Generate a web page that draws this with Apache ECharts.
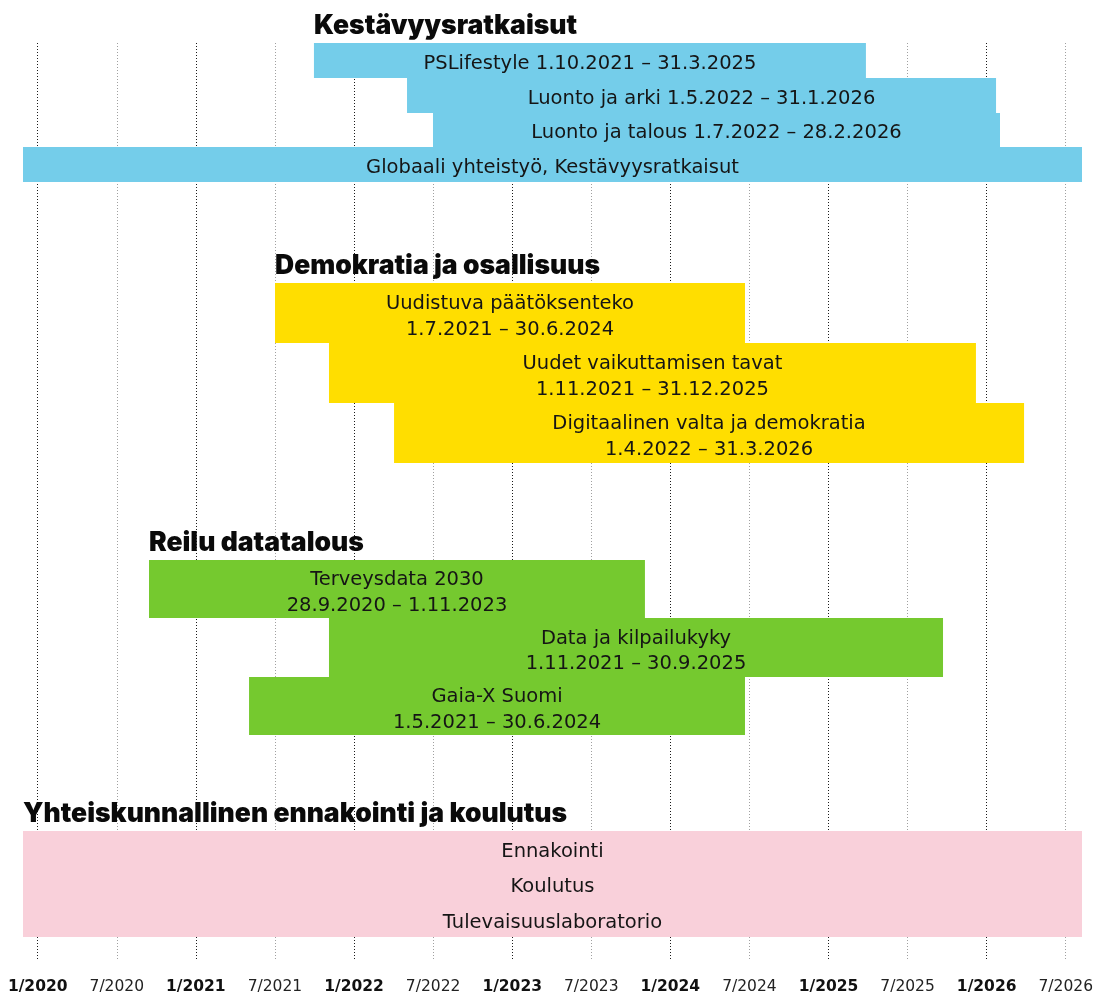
<!DOCTYPE html>
<html>
<head>
<meta charset="utf-8">
<title>Ohjelmat aikajanalla</title>
<script src="https://cdn.jsdelivr.net/npm/echarts@6/dist/echarts.min.js"></script>
<style>
    html, body { margin: 0; padding: 0; background: #fff; }
    #chart { width: 1096px; height: 995px; }
</style>
</head>
<body>
<div id="chart"></div>
<script>
// ryhmät (otsikot)
var groupNames = ['Kestävyysratkaisut', 'Demokratia ja osallisuus', 'Reilu datatalous', 'Yhteiskunnallinen ennakointi ja koulutus'];

// hankkeet
var projectNames = [
    'PSLifestyle', 'Luonto ja arki', 'Luonto ja talous', 'Globaali yhteistyö, Kestävyysratkaisut',
    'Uudistuva päätöksenteko', 'Uudet vaikuttamisen tavat', 'Digitaalinen valta ja demokratia',
    'Terveysdata 2030', 'Data ja kilpailukyky', 'Gaia-X Suomi',
    'Ennakointi', 'Koulutus', 'Tulevaisuuslaboratorio'
];
var projectDates = [
    '1.10.2021 – 31.3.2025', '1.5.2022 – 31.1.2026', '1.7.2022 – 28.2.2026', '',
    '1.7.2021 – 30.6.2024', '1.11.2021 – 31.12.2025', '1.4.2022 – 31.3.2026',
    '28.9.2020 – 1.11.2023', '1.11.2021 – 30.9.2025', '1.5.2021 – 30.6.2024',
    '', '', ''
];
var projectGroup = [0, 0, 0, 0, 1, 1, 1, 2, 2, 2, 3, 3, 3];

// palkkien alku ja loppu vuosina (luettu kuvasta)
var startYear = [2021.745, 2022.333, 2022.497, 2019.907, 2021.499, 2021.840, 2022.251, 2020.703, 2021.840, 2021.335, 2019.907, 2019.907, 2019.907];
var endYear = [2025.232, 2026.054, 2026.079, 2026.597, 2024.468, 2025.927, 2026.231, 2023.836, 2025.719, 2024.468, 2026.597, 2026.597, 2026.597];

// aika-akselin tekstit
var tickLabels = ['1/2020', '7/2020', '1/2021', '7/2021', '1/2022', '7/2022', '1/2023', '7/2023', '1/2024', '7/2024', '1/2025', '7/2025', '1/2026', '7/2026'];

// asettelu (y-akseli = sivun korkeus pikseleinä)
var groupColors = ['#74cdea', '#ffde00', '#75c92f', '#f9d0da'];
var groupTop = [43, 283, 560, 830.7];
var rowHeight = [34.75, 60, 58.3, 35.5];

var bars = [];
var rowIndex = [0, 0, 0, 0];
projectNames.forEach(function (name, i) {
    var g = projectGroup[i];
    var top = groupTop[g] + rowIndex[g] * rowHeight[g];
    rowIndex[g]++;
    bars.push([startYear[i], endYear[i], top, top + rowHeight[g], i]);
});

var headers = groupNames.map(function (name, g) {
    var first = projectGroup.indexOf(g);
    return [startYear[first], groupTop[g], g];
});

function barLabel(i) {
    var d = projectDates[i];
    if (!d) return projectNames[i];
    if (projectGroup[i] === 0) return projectNames[i] + ' ' + d;
    return projectNames[i] + '\n' + d;
}

var myChart = echarts.init(document.getElementById('chart'));
myChart.setOption({
    animation: false,
    grid: [
        { left: 23, right: 14, top: 0, bottom: 0 },
        { left: 37.7, right: 29.4, top: 43, bottom: 30 }
    ],
    xAxis: [
        { type: 'value', gridIndex: 0, min: 2019.907, max: 2026.597, show: false },
        {
            type: 'value',
            gridIndex: 1,
            min: 2020,
            max: 2026.5,
            interval: 0.5,
            axisLine: { show: false },
            axisTick: { show: false },
            splitLine: {
                show: true,
                lineStyle: { type: [1, 2], width: 1, color: ['#1a1a1a', '#a0a0a0'] }
            },
            axisLabel: {
                margin: 19,
                formatter: function (value, index) {
                    var t = tickLabels[index];
                    return t.indexOf('1/') === 0 ? '{b|' + t + '}' : '{n|' + t + '}';
                },
                rich: {
                    b: { fontFamily: 'DejaVu Sans', fontSize: 15.5, fontWeight: 'bold', color: '#111' },
                    n: { fontFamily: 'DejaVu Sans', fontSize: 15.5, fontWeight: 'normal', color: '#222' }
                }
            }
        }
    ],
    yAxis: [
        { type: 'value', gridIndex: 0, min: 0, max: 995, inverse: true, show: false },
        { type: 'value', gridIndex: 1, show: false }
    ],
    series: [
        {
            type: 'custom',
            name: 'hankkeet',
            xAxisIndex: 0,
            yAxisIndex: 0,
            z: 3,
            data: bars,
            encode: { x: [0, 1], y: [2, 3] },
            renderItem: function (params, api) {
                var i = api.value(4);
                var p0 = api.coord([api.value(0), api.value(2)]);
                var p1 = api.coord([api.value(1), api.value(3)]);
                var y0 = Math.round(p0[1]);
                var y1 = Math.round(p1[1]);
                var text = barLabel(i);
                var twoLines = text.indexOf('\n') >= 0;
                return {
                    type: 'rect',
                    shape: { x: p0[0], y: y0, width: p1[0] - p0[0], height: y1 - y0 },
                    style: { fill: groupColors[projectGroup[i]] },
                    textContent: {
                        style: {
                            text: text,
                            fill: '#151515',
                            fontFamily: 'DejaVu Sans',
                            fontSize: 19.5,
                            lineHeight: 25.5,
                            align: 'center',
                            verticalAlign: 'middle'
                        }
                    },
                    textConfig: { position: 'inside', offset: [0, twoLines ? 4 : 3] }
                };
            }
        },
        {
            type: 'custom',
            name: 'otsikot',
            xAxisIndex: 0,
            yAxisIndex: 0,
            z: 4,
            data: headers,
            encode: { x: 0, y: 1 },
            renderItem: function (params, api) {
                var p = api.coord([api.value(0), api.value(1)]);
                return {
                    type: 'text',
                    x: p[0],
                    y: p[1] - 17,
                    style: {
                        text: groupNames[api.value(2)],
                        fill: '#0a0a0a',
                        fontFamily: 'Inter',
                        fontWeight: 900,
                        fontSize: 26.5,
                        align: 'left',
                        verticalAlign: 'middle'
                    }
                };
            }
        }
    ]
});
</script>
</body>
</html>
